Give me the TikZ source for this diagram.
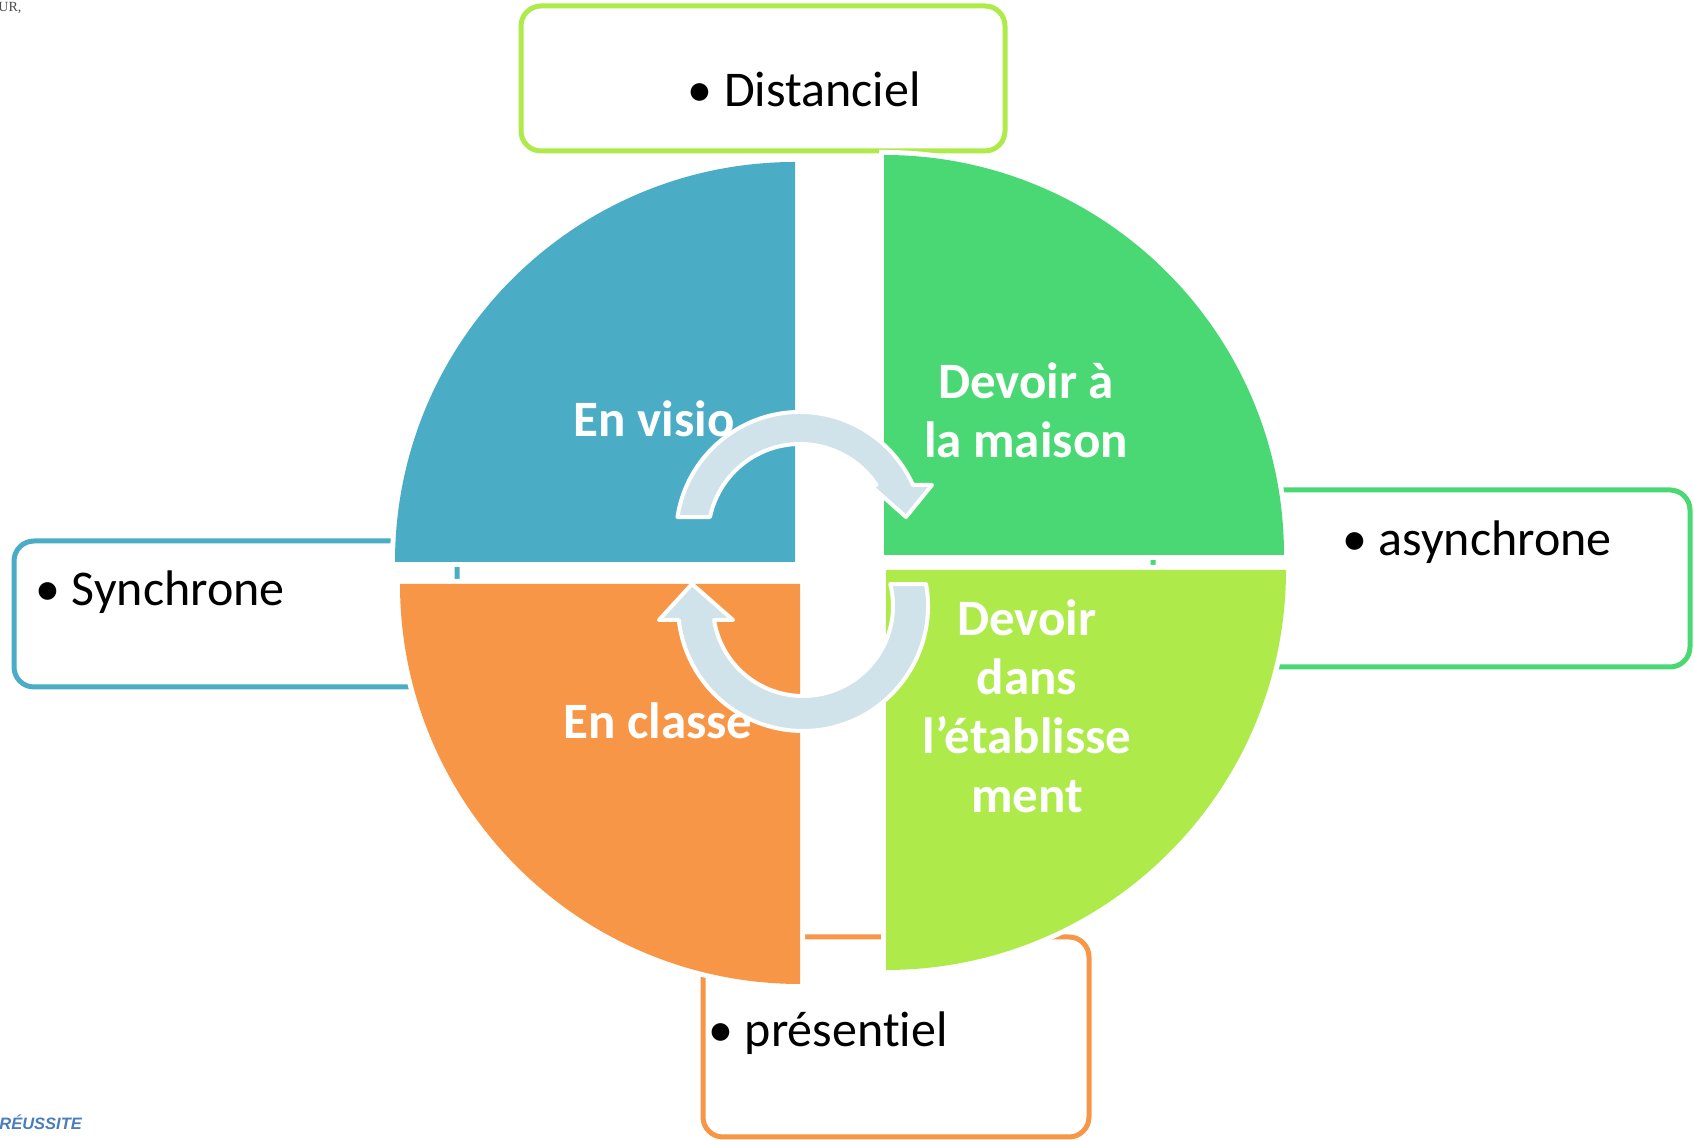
\documentclass[tikz,border=0pt]{standalone}
\usepackage{fontspec}
\setmainfont[Ligatures={NoCommon}]{Carlito}
\newfontfamily\rsfont{Liberation Sans}
\newfontfamily\urfont{Liberation Serif}
\usetikzlibrary{calc}
\definecolor{qblue}{RGB}{75,172,198}
\definecolor{qgreen}{RGB}{74,216,116}
\definecolor{qorange}{RGB}{247,150,70}
\definecolor{qlime}{RGB}{174,235,74}
\definecolor{arrowfill}{RGB}{208,226,234}
\definecolor{logoblue}{RGB}{74,125,185}
\begin{document}
\begin{tikzpicture}[x=0.5pt,y=0.5pt,
  infobox/.style={line width=2.5pt, rounded corners=10pt, fill=white},
  quad/.style={preaction={draw=white,line width=5pt}},
  qlabel/.style={text=white, font=\fontsize{25.5}{29.5}\selectfont\bfseries, align=center, inner sep=0pt},
  btext/.style={font=\fontsize{25}{30}\selectfont, inner sep=0pt, anchor=base east},
  cyclearrow/.style={fill=arrowfill, draw=white, line width=2pt, line join=round}]
\useasboundingbox (0,0) rectangle (1694,1140);
% boxes
\draw[infobox, draw=qlime] (521,989) rectangle (1005,1134);
\draw[infobox, draw=qblue] (14,453) rectangle (457,599);
\draw[infobox, draw=qgreen] (1153,473) rectangle (1690,650);
\draw[infobox, draw=qorange] (703,3) rectangle (1089,203);
% quadrants
\fill[qblue, quad] (795,578) -- ++(-400,0) arc[start angle=180,end angle=90,radius=200pt] -- cycle;
\fill[qgreen, quad] (884,585) -- ++(0,400) arc[start angle=90,end angle=0,radius=200pt] -- cycle;
\fill[qorange, quad] (800,556) -- ++(-400,0) arc[start angle=180,end angle=270,radius=200pt] -- cycle;
\fill[qlime, quad] (886,570) -- ++(400,0) arc[start angle=0,end angle=-90,radius=200pt] -- cycle;
% labels (anchor base = baseline of last line)
\node[qlabel, anchor=base] (visio) at (654,703) {En visio};
\node[qlabel, anchor=base] (classe) at (658,401) {En classe};
\node[qlabel, anchor=base] (maison) at (1026,682) {Devoir à\\la maison};
\node[qlabel, anchor=base] (etab) at (1027,327) {Devoir\\dans\\l’établisse\\ment};
% arrows
\coordinate (c1) at (800,604);
\coordinate (c2) at (803,534);
\filldraw[cyclearrow] ([shift={(171.2:62pt)}]c1) arc[start angle=171.2,end angle=24.3,radius=62pt] -- (932,655) -- (906,623) -- (870,655) -- ([shift={(33.7:46pt)}]c1) arc[start angle=33.7,end angle=168.1,radius=46pt] -- cycle;
\filldraw[cyclearrow] ([shift={(10.1:62.5pt)}]c2) arc[start angle=10.1,end angle=-173.6,radius=62.5pt] -- (659,520) -- (692,556) -- (733,520) -- ([shift={(-171.05:45pt)}]c2) arc[start angle=-171.05,end angle=14.1,radius=45pt] -- cycle;
% box texts
\node[btext] (dist) at (921,1033) {• Distanciel};
\node[btext] (async) at (1612,584) {• asynchrone};
\node[btext] (sync) at (285,534) {• Synchrone};
\node[btext] (pres) at (948,93) {• présentiel};
% tiny texts
\node[anchor=base west, inner sep=0pt, font=\urfont\fontsize{7}{8}\selectfont, text=black!70] (ur) at (-2,1128) {UR,};
\node[anchor=base west, inner sep=0pt, font=\rsfont\bfseries\itshape\fontsize{8.25}{9}\selectfont, text=logoblue] (reussite) at (-1,10) {RÉUSSITE};
\end{tikzpicture}
\end{document}
